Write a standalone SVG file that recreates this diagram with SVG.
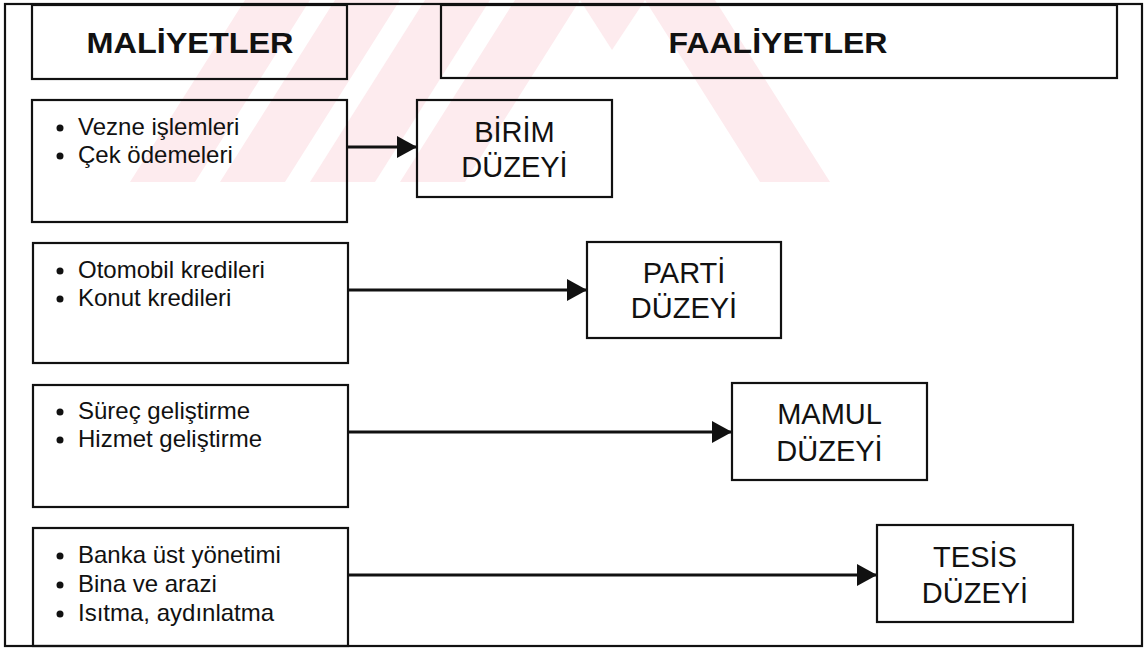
<svg xmlns="http://www.w3.org/2000/svg" width="1145" height="649" viewBox="0 0 1145 649">
  <style>
    .box { fill: none; stroke: #111; stroke-width: 2.2; }
    .hdr { font-family: "Liberation Sans", Arial, sans-serif; font-weight: bold; font-size: 30px; fill: #111; text-anchor: middle; }
    .item { font-family: "Liberation Sans", Arial, sans-serif; font-size: 24px; fill: #111; }
    .lvl { font-family: "Liberation Sans", Arial, sans-serif; font-size: 29px; fill: #111; text-anchor: middle; }
    .bul { fill: #111; }
    .wm { fill: #fdebee; }
    .conn { stroke: #111; stroke-width: 2.8; fill: none; }
  </style>
  <defs>
    <marker id="arrow" markerUnits="userSpaceOnUse" markerWidth="20" markerHeight="22" refX="20" refY="11" orient="auto">
      <path d="M0,0 L20,11 L0,22 Z" fill="#111"/>
    </marker>
  </defs>
  <rect width="1145" height="649" fill="#fff"/>
  <g id="watermark">
    <polygon class="wm" points="130,182 195,182 310,0 245,0"/>
    <polygon class="wm" points="220,182 285,182 400,0 335,0"/>
    <polygon class="wm" points="310,182 375,182 490,0 425,0"/>
    <polygon class="wm" points="400,182 465,182 580,0 515,0"/>
    <polygon class="wm" points="760,182 830,182 715,0 645,0"/>
    <polygon class="wm" points="580,0 645,0 612,50"/>
  </g>
  <rect id="frame" class="box" x="5" y="4" width="1137" height="642"/>
  <g id="hdr-maliyetler">
    <rect class="box" x="32" y="5" width="315" height="74"/>
    <text class="hdr" x="190" y="53" textLength="207" lengthAdjust="spacingAndGlyphs">MALİYETLER</text>
  </g>
  <g id="hdr-faaliyetler">
    <rect class="box" x="441" y="5" width="676" height="73"/>
    <text class="hdr" x="778" y="53" textLength="219" lengthAdjust="spacingAndGlyphs">FAALİYETLER</text>
  </g>
  <g id="cost1">
    <rect class="box" x="32" y="100" width="315" height="122"/>
    <circle class="bul" cx="60" cy="128" r="3.5"/>
    <circle class="bul" cx="60" cy="156" r="3.5"/>
    <text class="item" x="78" y="135">Vezne işlemleri</text>
    <text class="item" x="78" y="163">Çek ödemeleri</text>
  </g>
  <g id="cost2">
    <rect class="box" x="33" y="243" width="315" height="120"/>
    <circle class="bul" cx="60" cy="271" r="3.5"/>
    <circle class="bul" cx="60" cy="299" r="3.5"/>
    <text class="item" x="78" y="278">Otomobil kredileri</text>
    <text class="item" x="78" y="306">Konut kredileri</text>
  </g>
  <g id="cost3">
    <rect class="box" x="33" y="385" width="315" height="122"/>
    <circle class="bul" cx="60" cy="412" r="3.5"/>
    <circle class="bul" cx="60" cy="440" r="3.5"/>
    <text class="item" x="78" y="419">Süreç geliştirme</text>
    <text class="item" x="78" y="447">Hizmet geliştirme</text>
  </g>
  <g id="cost4">
    <rect class="box" x="33" y="528" width="315" height="118"/>
    <circle class="bul" cx="60" cy="556" r="3.5"/>
    <circle class="bul" cx="60" cy="585" r="3.5"/>
    <circle class="bul" cx="60" cy="614" r="3.5"/>
    <text class="item" x="78" y="563">Banka üst yönetimi</text>
    <text class="item" x="78" y="592">Bina ve arazi</text>
    <text class="item" x="78" y="621">Isıtma, aydınlatma</text>
  </g>
  <g id="lvl-birim">
    <rect class="box" x="417" y="100" width="195" height="97"/>
    <text class="lvl" x="514.5" y="142">BİRİM</text>
    <text class="lvl" x="514.5" y="177">DÜZEYİ</text>
  </g>
  <g id="lvl-parti">
    <rect class="box" x="587" y="242" width="194" height="96"/>
    <text class="lvl" x="684" y="283">PARTİ</text>
    <text class="lvl" x="684" y="318">DÜZEYİ</text>
  </g>
  <g id="lvl-mamul">
    <rect class="box" x="732" y="383" width="195" height="97"/>
    <text class="lvl" x="829.5" y="424">MAMUL</text>
    <text class="lvl" x="829.5" y="461">DÜZEYİ</text>
  </g>
  <g id="lvl-tesis">
    <rect class="box" x="877" y="525" width="196" height="97"/>
    <text class="lvl" x="975" y="567">TESİS</text>
    <text class="lvl" x="975" y="603">DÜZEYİ</text>
  </g>
  <g id="connectors">
    <line class="conn" x1="347" y1="147" x2="417" y2="147" marker-end="url(#arrow)"/>
    <line class="conn" x1="348" y1="290" x2="587" y2="290" marker-end="url(#arrow)"/>
    <line class="conn" x1="348" y1="432" x2="732" y2="432" marker-end="url(#arrow)"/>
    <line class="conn" x1="348" y1="575" x2="877" y2="575" marker-end="url(#arrow)"/>
  </g>
</svg>
